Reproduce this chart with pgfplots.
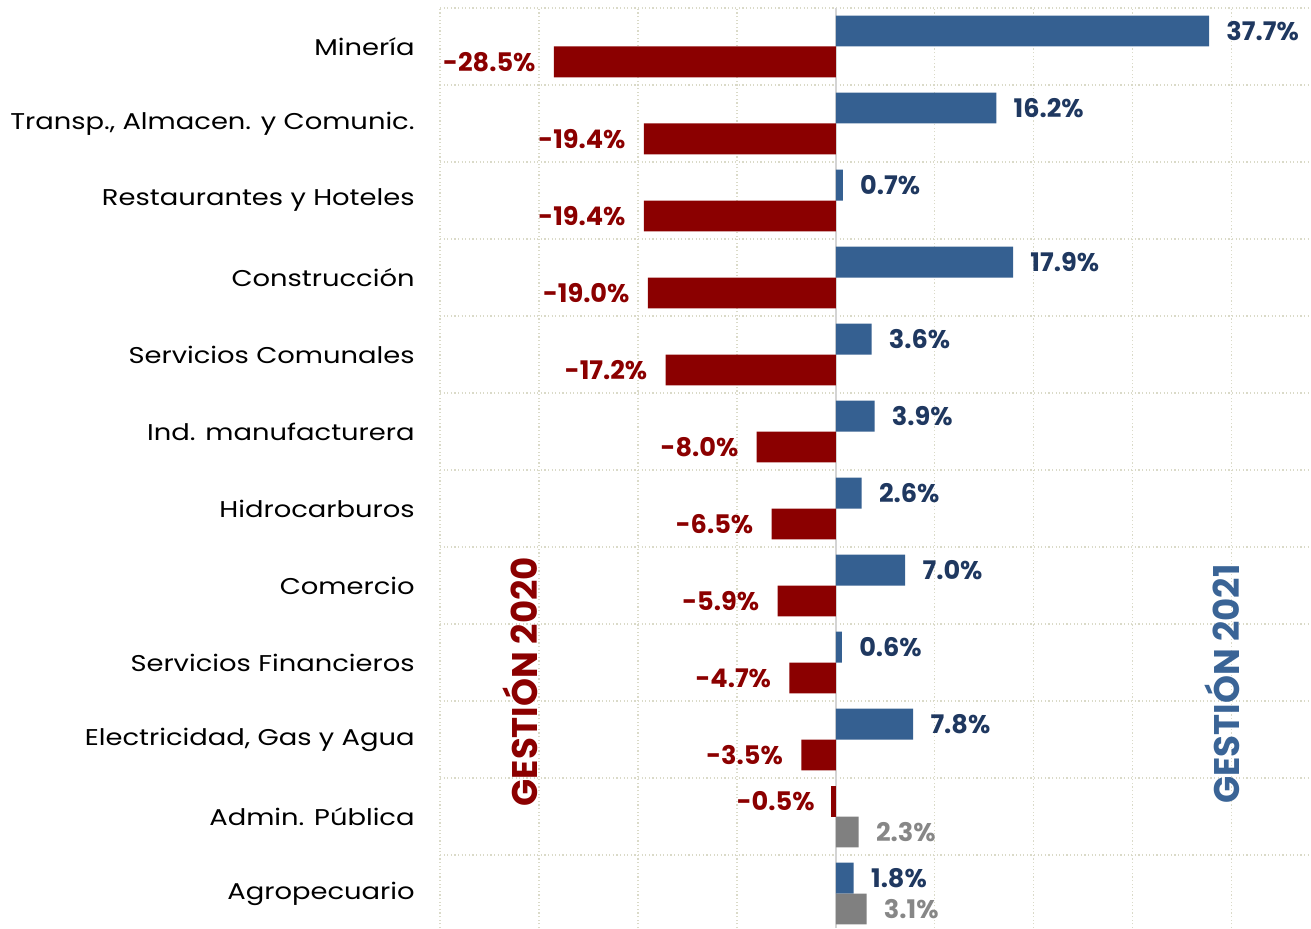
\documentclass[border=0pt]{standalone}
\usepackage{fontspec}
\setmainfont{Poppins}
\newfontfamily\catfont[FakeStretch=1.2]{Poppins}
\usepackage{pgfplots}
\pgfplotsset{compat=1.18}
\definecolor{cblue}{RGB}{53,96,145}
\definecolor{cbluetxt}{RGB}{31,56,96}
\definecolor{ctitleblue}{RGB}{58,100,150}
\definecolor{cred}{RGB}{139,0,0}
\definecolor{cgray}{RGB}{128,128,128}
\definecolor{cgraytxt}{RGB}{135,135,135}
\definecolor{cgrid}{RGB}{218,218,200}
\definecolor{czero}{RGB}{212,212,212}
\begin{document}
\begin{tikzpicture}
\begin{axis}[
  name=ax,
  scale only axis,
  width=435.5pt, height=460pt,
  xbar,
  bar width=0.4,
  xmin=-40, xmax=48,
  ymin=-0.448, ymax=11.5,
  axis line style={draw=none},
  major tick length=0pt, minor tick length=0pt,
  xtick={-40,-30,...,40},
  xticklabels={},
  xmajorgrids,
  ytick={0,1,...,11},
  yticklabels={Agropecuario, Admin. Pública, {Electricidad, Gas y Agua}, Servicios Financieros, Comercio, Hidrocarburos, Ind. manufacturera, Servicios Comunales, Construcción, Restaurantes y Hoteles, {Transp., Almacen. y Comunic.}, Minería},
  minor ytick={-0.5,0.5,...,11.5},
  yminorgrids,
  grid style={cgrid, line width=0.6pt, dash pattern=on 0.6pt off 1.2pt},
  minor grid style={cgrid, line width=0.6pt, dash pattern=on 0.6pt off 1.2pt},
  yticklabel style={font=\catfont\fontsize{11.4}{13}\selectfont, anchor=east, inner sep=0pt, xshift=-12.5pt},
  extra x ticks={0},
  extra x tick labels={},
  extra x tick style={grid=major, major grid style={solid, czero, line width=1pt}},
  point meta=x,
  /pgf/number format/assume math mode=true,
  clip=false,
]
% 2021 positive (blue)
\addplot[fill=cblue, draw=none, bar shift=0.2,
  nodes near coords={\pgfmathprintnumber[fixed,fixed zerofill,precision=1]{\pgfplotspointmeta}\%},
  every node near coord/.append style={anchor=west, inner sep=0pt, xshift=8.5pt, text=cbluetxt, font=\bfseries\fontsize{12.8}{14}\selectfont}]
  coordinates {(37.7,11) (16.2,10) (0.7,9) (17.9,8) (3.6,7) (3.9,6) (2.6,5) (7.0,4) (0.6,3) (7.8,2) (1.8,0)};
% 2021 negative (red)
\addplot[fill=cred, draw=none, bar shift=0.2,
  nodes near coords={\pgfmathprintnumber[fixed,fixed zerofill,precision=1]{\pgfplotspointmeta}\%},
  every node near coord/.append style={anchor=east, inner sep=0pt, xshift=-8pt, text=cred, font=\bfseries\fontsize{12.8}{14}\selectfont}]
  coordinates {(-0.5,1)};
% 2020 negative (red)
\addplot[fill=cred, draw=none, bar shift=-0.2,
  nodes near coords={\pgfmathprintnumber[fixed,fixed zerofill,precision=1]{\pgfplotspointmeta}\%},
  every node near coord/.append style={anchor=east, inner sep=0pt, xshift=-9pt, text=cred, font=\bfseries\fontsize{12.8}{14}\selectfont}]
  coordinates {(-28.5,11) (-19.4,10) (-19.4,9) (-19.0,8) (-17.2,7) (-8.0,6) (-6.5,5) (-5.9,4) (-4.7,3) (-3.5,2)};
% 2020 positive (gray)
\addplot[fill=cgray, draw=none, bar shift=-0.2,
  nodes near coords={\pgfmathprintnumber[fixed,fixed zerofill,precision=1]{\pgfplotspointmeta}\%},
  every node near coord/.append style={anchor=west, inner sep=0pt, xshift=8.5pt, text=cgraytxt, font=\bfseries\fontsize{12.8}{14}\selectfont}]
  coordinates {(2.3,1) (3.1,0)};
\node[rotate=90, inner sep=0pt, text=cred, font=\bfseries\fontsize{17.8}{20}\selectfont] at (axis cs:-31.9,2.75) {GESTIÓN 2020};
\node[rotate=90, inner sep=0pt, text=ctitleblue, font=\bfseries\fontsize{17.8}{20}\selectfont] at (axis cs:39.0,2.72) {GESTIÓN 2021};
\end{axis}
\pgfresetboundingbox
\path[use as bounding box] ([xshift=-220pt]ax.south west) rectangle ([yshift=4pt]ax.north east);
\end{tikzpicture}
\end{document}
